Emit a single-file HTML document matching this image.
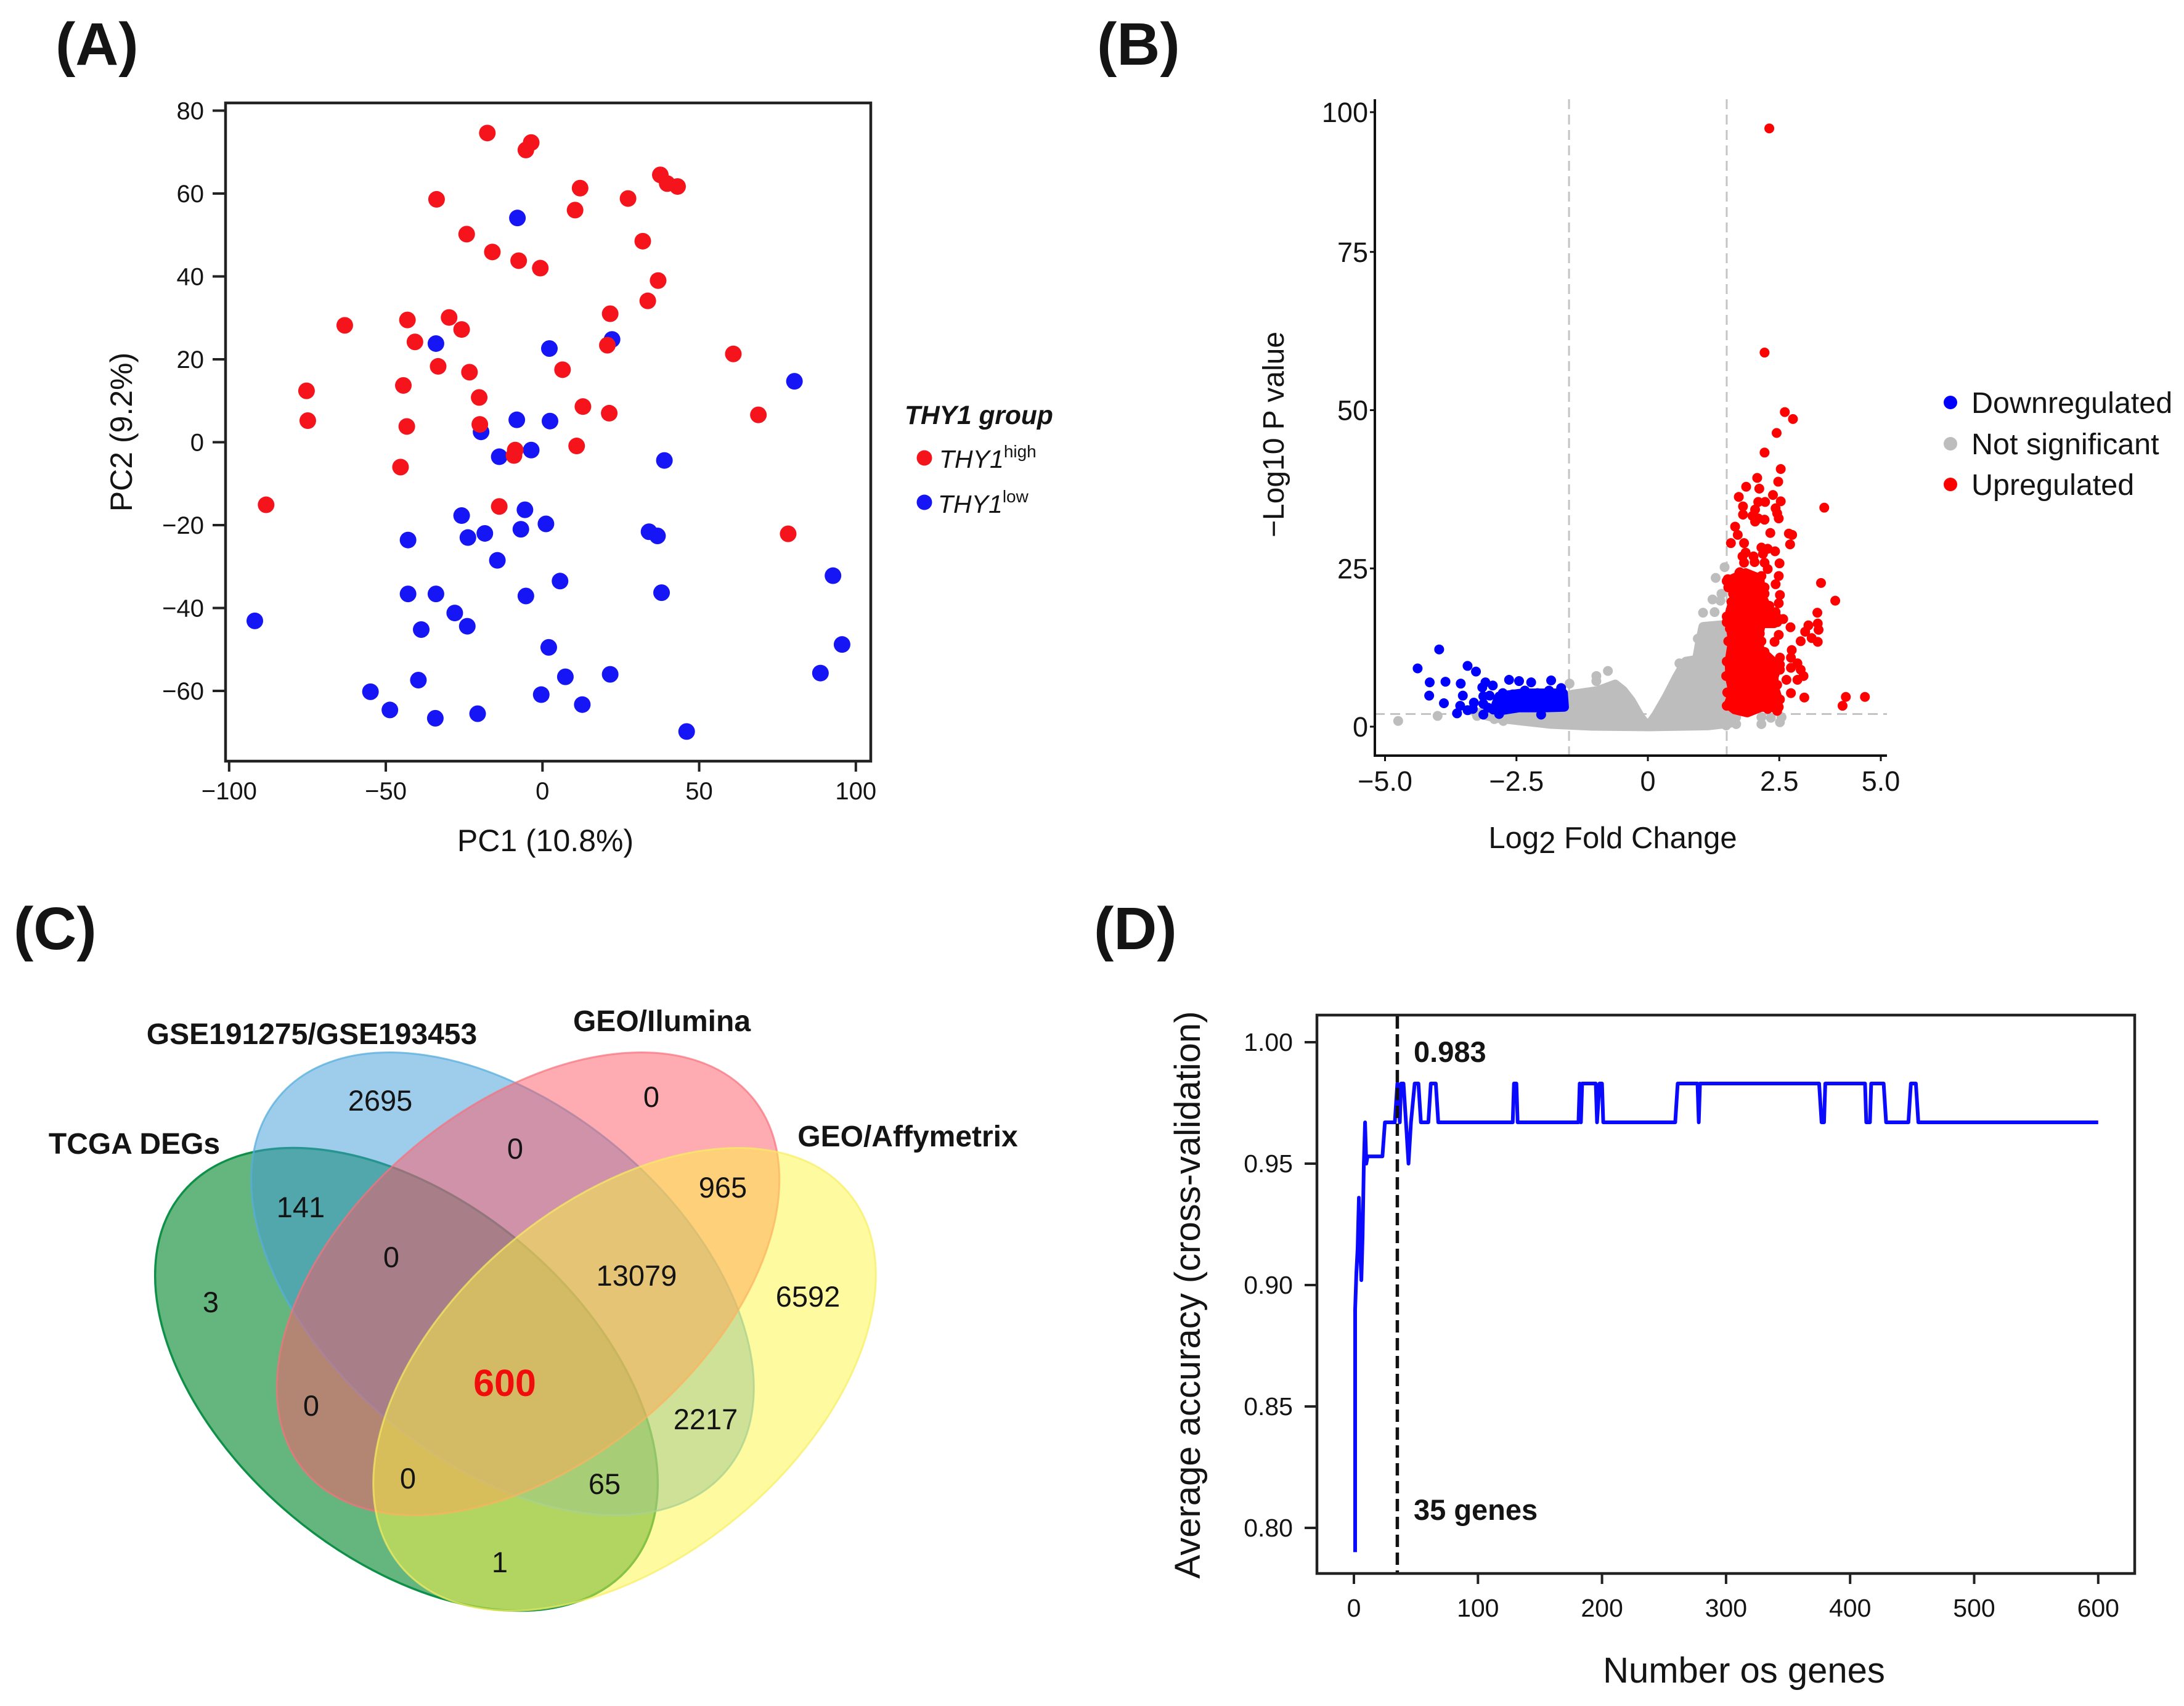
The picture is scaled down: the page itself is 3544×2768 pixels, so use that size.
<!DOCTYPE html>
<html lang="en">
<head>
<meta charset="utf-8">
<title>THY1 multi-panel figure</title>
<style>
html,body{margin:0;padding:0;background:#fff;width:3544px;height:2768px;overflow:hidden}
svg{display:block;font-family:"Liberation Sans",sans-serif}
text{fill:#141414}
</style>
</head>
<body>
<svg id="fig" xmlns="http://www.w3.org/2000/svg" width="3544" height="2768" viewBox="0 0 3544 2768">
<rect width="3544" height="2768" fill="#fff"/>
<text x="90" y="105" font-size="97" font-weight="700">(A)</text>
<text x="1780" y="105" font-size="97" font-weight="700">(B)</text>
<text x="22" y="1540" font-size="97" font-weight="700">(C)</text>
<text x="1775" y="1540" font-size="97" font-weight="700">(D)</text>

<g id="panelA">
  <rect x="366" y="167" width="1047" height="1068" fill="none" stroke="#222" stroke-width="4.5"/>
  <text x="885" y="1381" font-size="50" text-anchor="middle">PC1 (10.8%)</text>
  <text transform="translate(214,701) rotate(-90)" font-size="50" text-anchor="middle">PC2 (9.2%)</text>
  <text x="1468" y="688" font-size="42.5" font-weight="700" font-style="italic">THY1 group</text>
  <circle cx="1500" cy="743" r="12.5" fill="#f6141c"/>
  <text x="1524" y="759" font-size="41" font-style="italic">THY1<tspan dy="-17" font-size="28" font-style="normal">high</tspan></text>
  <circle cx="1500" cy="815" r="12.5" fill="#1515f5"/>
  <text x="1522" y="832" font-size="41" font-style="italic">THY1<tspan dy="-17" font-size="28" font-style="normal">low</tspan></text>
</g>

<g id="panelB">
  <text x="2617" y="1376" font-size="49" text-anchor="middle">Log<tspan dy="8">2</tspan><tspan dy="-8"> Fold Change</tspan></text>
  <text transform="translate(2083,705) rotate(-90)" font-size="48" text-anchor="middle">−Log10 P value</text>
  <circle cx="3165" cy="653" r="11" fill="#0000ff"/>
  <text x="3199" y="670" font-size="48.5">Downregulated</text>
  <circle cx="3165" cy="720" r="11" fill="#bdbdbd"/>
  <text x="3199" y="737" font-size="48.5">Not significant</text>
  <circle cx="3165" cy="786" r="11" fill="#ff0000"/>
  <text x="3199" y="803" font-size="48.5">Upregulated</text>
</g>

<g id="panelC">
  <ellipse cx="659.5" cy="2238" rx="473" ry="289" transform="rotate(39.8 659.5 2238)" fill="#239548" fill-opacity=".7" stroke="#0f9048" stroke-width="3.5"/>
  <ellipse cx="815.5" cy="2083" rx="473" ry="289" transform="rotate(39.8 815.5 2083)" fill="#3d99d8" fill-opacity=".5" stroke="#55aede" stroke-opacity=".75" stroke-width="3"/>
  <ellipse cx="857" cy="2083" rx="473" ry="289" transform="rotate(-39.8 857 2083)" fill="#ff5765" fill-opacity=".5" stroke="#f8707c" stroke-opacity=".7" stroke-width="3"/>
  <ellipse cx="1013.5" cy="2238" rx="473" ry="289" transform="rotate(-39.8 1013.5 2238)" fill="#fdf541" fill-opacity=".5" stroke="#f6ee62" stroke-opacity=".7" stroke-width="3"/>
  <g font-size="47" text-anchor="middle">
    <text x="617" y="1802">2695</text>
    <text x="1057" y="1796">0</text>
    <text x="836" y="1880">0</text>
    <text x="1173" y="1943">965</text>
    <text x="488" y="1975">141</text>
    <text x="635" y="2056">0</text>
    <text x="1033" y="2086">13079</text>
    <text x="342" y="2129">3</text>
    <text x="1311" y="2120">6592</text>
    <text x="505" y="2297">0</text>
    <text x="1145" y="2319">2217</text>
    <text x="662" y="2415">0</text>
    <text x="981" y="2424">65</text>
    <text x="811" y="2551">1</text>
  </g>
  <text x="819" y="2265" font-size="61" font-weight="700" text-anchor="middle" style="fill:#f20d0d">600</text>
  <g font-size="48" font-weight="700" text-anchor="middle">
    <text x="506" y="1694">GSE191275/GSE193453</text>
    <text x="1074" y="1673">GEO/Ilumina</text>
    <text x="218" y="1872">TCGA DEGs</text>
    <text x="1473" y="1860">GEO/Affymetrix</text>
  </g>
</g>

<g id="panelD">
  <rect x="2137" y="1647" width="1327" height="906" fill="none" stroke="#222" stroke-width="4.5"/>
  <text x="2830" y="2730" font-size="58" text-anchor="middle">Number os genes</text>
  <text transform="translate(1947,2101) rotate(-90)" font-size="58" text-anchor="middle">Average accuracy (cross-validation)</text>
  <text x="2294" y="1723" font-size="47" font-weight="700">0.983</text>
  <text x="2294" y="2466" font-size="47" font-weight="700">35 genes</text>
</g>
</svg>
<script>
/* Panel A */
const pcaTicksX = [-100, -50, 0, 50, 100];
const pcaTicksY = [-60, -40, -20, 0, 20, 40, 60, 80];
const highPC1 = [-17.6,-3.6,-5.3,37.6,39.8,43.1,12.0,27.3,-33.8,10.4,-24.2,32.0,-16.0,-7.6,-0.7,36.9,33.6,21.6,-43.1,-29.8,-63.1,-25.8,-40.7,20.7,60.9,-33.3,6.4,-23.3,-44.4,-75.3,-20.2,12.9,21.3,68.9,-74.9,-43.3,-20.0,10.9,-8.7,-9.1,-45.3,-88.2,-13.8,78.4];
const highPC2 = [74.6,72.3,70.5,64.5,62.4,61.7,61.3,58.8,58.6,56.0,50.2,48.5,45.9,43.8,42.0,39.0,34.1,31.0,29.5,30.1,28.2,27.2,24.2,23.4,21.3,18.3,17.5,16.9,13.7,12.4,10.8,8.6,7.0,6.6,5.2,3.8,4.3,-0.9,-1.9,-3.2,-6.0,-15.1,-15.5,-22.1];
const lowPC1 = [-8.0,-34.0,22.2,2.2,80.4,-8.2,2.4,-19.6,-3.6,-13.8,38.9,-5.6,-25.8,1.1,-6.9,-18.4,34.0,36.7,-23.8,-42.9,-14.4,92.7,5.6,38.0,-42.9,-34.0,-5.3,-28.0,-24.0,-38.7,-91.8,95.6,2.0,88.7,21.6,7.3,-39.6,-54.9,-0.4,-48.7,12.7,-20.7,-34.2,46.0];
const lowPC2 = [54.1,23.8,24.8,22.6,14.7,5.4,5.1,2.5,-1.9,-3.5,-4.4,-16.3,-17.7,-19.7,-21.0,-22.0,-21.6,-22.6,-23.0,-23.6,-28.5,-32.2,-33.5,-36.3,-36.6,-36.6,-37.1,-41.2,-44.4,-45.2,-43.1,-48.8,-49.5,-55.7,-56.0,-56.6,-57.4,-60.2,-60.9,-64.6,-63.3,-65.5,-66.6,-69.8];

/* Panel B */
const volcanoTicksX = [-5.0, -2.5, 0, 2.5, 5.0];
const volcanoTickLabelsX = ["−5.0", "−2.5", "0", "2.5", "5.0"];
const volcanoTicksY = [0, 25, 50, 75, 100];
const foldCutoffs = [-1.5, 1.5];
const pCutoff = 2;
const nsCloudFC = [-3.28,-2.57,-1.43,-1.10,-0.95,-0.62,-0.47,-0.32,-0.14,0.0,0.16,0.36,0.54,0.72,0.93,0.98,1.05,1.44,1.56,1.56,1.14,0,-1.07,-1.85,-2.39,-2.92];
const nsCloudP = [2.2,2.5,5.1,5.5,5.7,6.7,5.7,4.1,1.5,0.03,1.9,4.8,7.7,10.3,10.6,13,15.8,16.1,4.4,0.55,0.16,0,0.1,0.4,0.9,1.4];
const nsFC = [-4.75,-4.0,-1.49,-0.98,-0.98,-0.76,1.46,1.29,1.40,1.23,1.38,1.05,1.27,0.95,0.60,1.68,1.68,1.49,2.16,2.34,2.56,2.16,2.52,-3.25,-2.92,-2.75];
const nsP = [0.9,1.7,6.8,8.0,7.2,8.8,25.2,23.5,21,20.1,19.9,18,18.1,13.9,10,1.5,0.4,0.2,1.5,1.4,1.5,0.4,0.7,1.7,1.2,0.9];
const downCloudFC = [-2.83,-2.39,-1.85,-1.61,-1.59,-1.97,-2.45,-2.83,-2.89];
const downCloudP = [4.8,5.3,5.3,5.3,3.1,3.0,3.0,2.5,3.5];
const downFC = [-3.97,-4.38,-3.43,-3.27,-4.15,-3.85,-3.56,-4.16,-3.52,-3.88,-3.63,-3.57,-3.43,-3.31,-3.33,-3.09,-2.95,-3.15,-3.13,-3.01,-3.13,-3.04,-3.13,-2.83,-2.94,-2.64,-2.45,-2.22,-1.84,-1.65,-1.88,-2.34,-2.76,-2.03,-2.57,-2.10];
const downP = [12.2,9.2,9.6,8.7,7.0,7.1,6.8,4.9,4.9,3.7,2.1,3.3,2.6,3.8,2.8,7.0,6.5,6.2,4.8,4.9,3.6,3.0,1.9,2.0,2.7,7.4,7.2,7.0,7.3,6.1,5.7,5.7,5.3,1.9,5.1,5.3];
const upCloudFC = [1.59,1.86,2.13,2.16,2.28,2.46,2.40,2.16,2.10,2.13,2.34,2.46,2.40,2.40,2.46,2.43,2.16,1.89,1.65,1.53,1.62,1.56,1.55,1.61,1.56,1.56,1.65];
const upCloudP = [23.3,24.3,23.4,20.7,18.7,17.3,16.3,16.3,14.2,12.2,10.6,9.3,7.9,6.4,4.8,3.0,3.1,2.2,2.7,3.5,5.4,7.7,10.3,13.5,16.5,18.1,20.7];
const upFC = [2.31,2.22,2.64,2.84,2.45,2.22,2.54,2.08,2.48,1.87,2.12,2.38,1.73,2.10,2.23,2.54,1.81,3.61,2.04,2.43,1.81,2.46,1.99,2.10,2.22,2.04,2.49,1.66,1.71,2.33,2.74,2.82,2.77,1.58,1.83,2.16,2.28,2.42,1.86,2.19,2.01,1.80,1.83,2.03,2.22,2.51,2.28,1.75,2.49,2.16,2.43,1.52,1.77,1.95,3.53,1.53,2.52,3.88,2.22,2.49,3.44,3.45,3.22,2.78,3.47,3.14,3.30,2.49,3.45,3.03,2.41,2.81,2.52,2.79,2.95,2.52,3.03,3.10,2.68,2.95,2.79,3.12,4.14,4.06,4.61,
  2.22,2.19,2.31,2.43,2.60,2.46,2.28,2.07,2.16,2.13,2.16,2.22,2.34,2.28,2.52,2.79,2.40,2.46,2.37,2.52,2.49,2.28,2.46,2.22,2.31,
  1.50,1.74,1.92,1.62,1.59,1.68,1.50,1.50,1.56,1.53,1.50,1.49,1.51,1.50];
const upP = [97.1,59.1,49.7,48.6,46.4,43.3,40.7,39.3,38.7,37.9,37.6,36.6,36.3,35.5,35.5,35.6,34.8,34.6,34.3,34.5,33.5,33.7,33.3,32.9,32.7,32.4,32.9,31.6,30.3,30.6,30.5,30.3,28.8,29.0,29,28.3,28.1,27.7,27.5,27.3,26.9,26.9,25.9,26.0,25.9,25.8,24.9,24.4,23.8,23.8,22.5,23.3,23.4,23.4,22.7,22.0,20.8,19.9,21.0,19.5,18,16.3,16,15.7,15.3,15,14,14.5,13.4,13.5,13.4,12.1,10.9,10.9,10,9,9,8,7.4,7.4,5.3,4.6,4.7,3.3,4.7,
  22.0,20.7,19.1,18.1,17.0,16.5,16.9,17.9,16.5,14.7,13.5,11.8,10.0,8.0,9.8,9.3,8.5,6.6,5.7,4.3,3.1,2.8,2.5,4.1,5.4,
  23,24.3,22,21,19.7,18.7,17.4,16.5,15.5,13.5,10.3,8,5.4,3.3];

/* Panel D */
const accuracyTicksX = [0, 100, 200, 300, 400, 500, 600];
const accuracyTicksY = [0.80, 0.85, 0.90, 0.95, 1.00];
const selectedGenes = 35;
const geneCounts = [1,1,2,3,4,5,6,7,8,9,10,11,23,25,33,35,37,38,40,42,44,46,49,52,54,60,62,66,68,128,129,131,132,181,182,183,184,195,196,198,200,201,259,261,277,278,279,375,377,379,380,412,413,416,417,427,429,447,449,453,455,600];
const accuracies = [0.79,0.89,0.905,0.915,0.936,0.915,0.902,0.92,0.95,0.967,0.95,0.953,0.953,0.967,0.967,0.983,0.967,0.983,0.983,0.967,0.95,0.967,0.983,0.983,0.967,0.967,0.983,0.983,0.967,0.967,0.983,0.983,0.967,0.967,0.983,0.967,0.983,0.983,0.967,0.983,0.983,0.967,0.967,0.983,0.983,0.967,0.983,0.983,0.967,0.967,0.983,0.983,0.967,0.967,0.983,0.983,0.967,0.967,0.983,0.983,0.967,0.967];

const NS = 'http://www.w3.org/2000/svg';
function make(tag, parent, attrs, txt) {
  const e = document.createElementNS(NS, tag);
  for (const k in attrs) e.setAttribute(k, attrs[k]);
  if (txt !== undefined) e.textContent = txt;
  parent.appendChild(e);
  return e;
}
const fmtNum = v => String(v).replace('-', '−');

/* axis functions */
const ax = v => 880.3 + 5.085 * v;
const ay = v => 717.5 - 6.725 * v;
const bx = v => v <= 2.5 ? 2674 + 85.3 * v : 2887 + 66 * (v - 2.5);
const by = v => v <= 75 ? 1179 - 10.27 * v : 409 - 9.08 * (v - 75);
const dx = v => 2197 + 2.013 * v;
const dy = v => 1691 + (1 - v) * 3940;

/* ---------- Panel A ---------- */
const gA = document.getElementById('panelA');
pcaTicksX.forEach(t => {
  const tick = make('line', gA, {x1: ax(t), x2: ax(t), y1: 1235, y2: 1252, stroke: '#222', 'stroke-width': 4});
  
  
  const lab = make('text', gA, {x: ax(t), y: 1297, 'font-size': 40, 'text-anchor': 'middle'}, fmtNum(t));
  
  
});
pcaTicksY.forEach(t => {
  const tick = make('line', gA, {x1: 345, x2: 366, y1: ay(t), y2: ay(t), stroke: '#222', 'stroke-width': 4});
  
  
  const lab = make('text', gA, {x: 331, y: ay(t) + 14, 'font-size': 40, 'text-anchor': 'end'}, fmtNum(t));
  
  
});
lowPC1.forEach((v, i) => {
  const p = make('circle', gA, {cx: ax(v), cy: ay(lowPC2[i]), r: 13.5, fill: '#1515f5'});
  
  
});
highPC1.forEach((v, i) => {
  const p = make('circle', gA, {cx: ax(v), cy: ay(highPC2[i]), r: 13.5, fill: '#f6141c'});
  
  
});

/* ---------- Panel B ---------- */
const gB = document.getElementById('panelB');
function cloud(fc, p, color) {
  const d = fc.map((v, i) => (i ? 'L' : 'M') + bx(v).toFixed(1) + ' ' + by(p[i]).toFixed(1)).join('') + 'Z';
  return make('path', gB, {d: d, fill: color, stroke: color, 'stroke-width': 15, 'stroke-linejoin': 'round'});
}
foldCutoffs.forEach(c => {
  const l = make('line', gB, {x1: bx(c), x2: bx(c), y1: 161, y2: 1226, stroke: '#c4c4c4', 'stroke-width': 3, 'stroke-dasharray': '16 9'});
  
  
});
const pLine = make('line', gB, {x1: 2231, x2: 3062, y1: by(pCutoff), y2: by(pCutoff), stroke: '#c4c4c4', 'stroke-width': 3, 'stroke-dasharray': '16 9'});



const nsBand = cloud(nsCloudFC, nsCloudP, '#bdbdbd');


nsFC.forEach((v, i) => {
  const p = make('circle', gB, {cx: bx(v), cy: by(nsP[i]), r: 8, fill: '#bdbdbd'});
  
  
});
const downBand = cloud(downCloudFC, downCloudP, '#0000ff');


downFC.forEach((v, i) => {
  const p = make('circle', gB, {cx: bx(v), cy: by(downP[i]), r: 8, fill: '#0000ff'});
  
  
});
const upBand = cloud(upCloudFC, upCloudP, '#ff0000');


upFC.forEach((v, i) => {
  const p = make('circle', gB, {cx: bx(v), cy: by(upP[i]), r: 8, fill: '#ff0000'});
  
  
});
const vAxisY = make('line', gB, {x1: 2231, x2: 2231, y1: 161, y2: 1228, stroke: '#111', 'stroke-width': 4});


const vAxisX = make('line', gB, {x1: 2229, x2: 3062, y1: 1226, y2: 1226, stroke: '#111', 'stroke-width': 4});


volcanoTicksX.forEach((t, i) => {
  const tick = make('line', gB, {x1: bx(t), x2: bx(t), y1: 1226, y2: 1235, stroke: '#111', 'stroke-width': 3});
  
  
  const lab = make('text', gB, {x: bx(t), y: 1283, 'font-size': 45, 'text-anchor': 'middle'}, volcanoTickLabelsX[i]);
  
  
});
volcanoTicksY.forEach(t => {
  const tick = make('line', gB, {x1: 2223, x2: 2231, y1: by(t), y2: by(t), stroke: '#111', 'stroke-width': 3});
  
  
  const lab = make('text', gB, {x: 2220, y: by(t) + 16, 'font-size': 45, 'text-anchor': 'end'}, String(t));
  
  
});

/* ---------- Panel D ---------- */
const gD = document.getElementById('panelD');
accuracyTicksX.forEach(t => {
  const tick = make('line', gD, {x1: dx(t), x2: dx(t), y1: 2553, y2: 2570, stroke: '#222', 'stroke-width': 4});
  
  
  const lab = make('text', gD, {x: dx(t), y: 2623, 'font-size': 41, 'text-anchor': 'middle'}, String(t));
  
  
});
accuracyTicksY.forEach(t => {
  const tick = make('line', gD, {x1: 2117, x2: 2137, y1: dy(t), y2: dy(t), stroke: '#222', 'stroke-width': 4});
  
  
  const lab = make('text', gD, {x: 2098, y: dy(t) + 14, 'font-size': 41, 'text-anchor': 'end'}, t.toFixed(2));
  
  
});
const accPath = geneCounts.map((v, i) => (i ? 'L' : 'M') + dx(v).toFixed(1) + ' ' + dy(accuracies[i]).toFixed(1)).join('');
const accLine = make('path', gD, {d: accPath, fill: 'none', stroke: '#0a0aff', 'stroke-width': 6, 'stroke-linejoin': 'round'});


const selLine = make('line', gD, {x1: dx(selectedGenes), x2: dx(selectedGenes), y1: 1649, y2: 2551, stroke: '#111', 'stroke-width': 5.5, 'stroke-dasharray': '20 9'});


</script>
</body>
</html>
